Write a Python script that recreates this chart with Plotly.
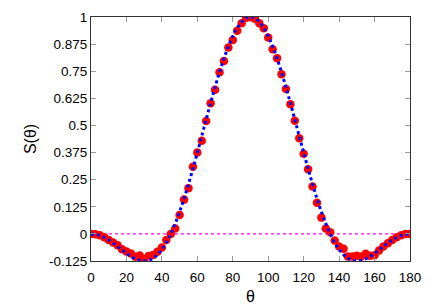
import plotly.graph_objects as go

theta = [i * 2.5 for i in range(73)]

s_data = [0.000, -0.002, -0.006, -0.015, -0.028, -0.040, -0.052, -0.071, -0.081, -0.090,
          -0.105, -0.100, -0.117, -0.102, -0.097, -0.082, -0.063, -0.028, 0.000, 0.025,
          0.087, 0.158, 0.211, 0.310, 0.375, 0.429, 0.521, 0.602, 0.665, 0.745,
          0.797, 0.859, 0.894, 0.937, 0.971, 0.997, 0.999, 0.992, 0.971, 0.948,
          0.906, 0.851, 0.810, 0.736, 0.668, 0.598, 0.522, 0.441, 0.369, 0.298,
          0.218, 0.144, 0.075, 0.025, 0.008, -0.031, -0.058, -0.069, -0.104, -0.104,
          -0.101, -0.104, -0.092, -0.101, -0.098, -0.077, -0.058, -0.043, -0.028, -0.015,
          -0.006, -0.001, 0.000]

s_theory = [0.0, -0.0019, -0.0075, -0.0165, -0.0283, -0.0425, -0.0580, -0.0741, -0.0896, -0.1036,
            -0.1148, -0.1223, -0.1250, -0.1220, -0.1125, -0.0959, -0.0718, -0.0398, 0.0, 0.0474,
            0.1019, 0.1629, 0.2295, 0.3006, 0.375, 0.4513, 0.5280, 0.6036, 0.6764, 0.7451,
            0.8080, 0.8639, 0.9114, 0.9495, 0.9773, 0.9943, 1.0, 0.9943, 0.9773, 0.9495,
            0.9114, 0.8639, 0.8080, 0.7451, 0.6764, 0.6036, 0.5280, 0.4513, 0.375, 0.3006,
            0.2295, 0.1629, 0.1019, 0.0474, 0.0, -0.0398, -0.0718, -0.0959, -0.1125, -0.1220,
            -0.1250, -0.1223, -0.1148, -0.1036, -0.0896, -0.0741, -0.0580, -0.0425, -0.0283, -0.0165,
            -0.0075, -0.0019, 0.0]

zero_x = [0, 180]
zero_y = [0, 0]

x_ticks = [0, 20, 40, 60, 80, 100, 120, 140, 160, 180]
y_ticks = [-0.125, 0, 0.125, 0.25, 0.375, 0.5, 0.625, 0.75, 0.875, 1]
y_labels = ["-0.125", "0", "0.125", "0.25", "0.375", "0.5", "0.625", "0.75", "0.875", "1"]

fig = go.Figure()
fig.add_trace(go.Scatter(x=zero_x, y=zero_y, mode="lines",
                         line=dict(color="#ff00ff", width=1.2, dash="dot"), hoverinfo="skip"))
fig.add_trace(go.Scatter(x=theta, y=s_data, mode="markers",
                         marker=dict(color="#ff0000", size=8.5, line=dict(width=0))))
fig.add_trace(go.Scatter(x=theta, y=s_theory, mode="lines", line_shape="spline",
                         line=dict(color="#0000ff", width=3, dash="dot")))

# page body has an 8px margin, so the figure is sized/offset to compensate
fig.update_layout(
    width=428, height=297,
    margin=dict(l=83, r=26, t=9, b=44),
    paper_bgcolor="white", plot_bgcolor="white",
    showlegend=False,
    font=dict(family="Liberation Sans, Arial, sans-serif", size=13.5, color="black"),
)
fig.update_xaxes(range=[0, 180], tickvals=x_ticks, ticks="inside", ticklen=5, tickcolor="#999999",
                 showline=True, linecolor="#333333", linewidth=1, mirror="ticks",
                 showgrid=False, zeroline=False, automargin=False, ticklabelstandoff=4,
                 title=dict(text="θ", standoff=6))
fig.update_yaxes(range=[-0.125, 1], tickvals=y_ticks, ticktext=y_labels, ticks="inside", ticklen=5,
                 tickcolor="#999999", showline=True, linecolor="#333333", linewidth=1, mirror="ticks",
                 showgrid=False, zeroline=False, automargin=False,
                 title=dict(text="S(θ)", standoff=8))

fig.write_html("out.html")
